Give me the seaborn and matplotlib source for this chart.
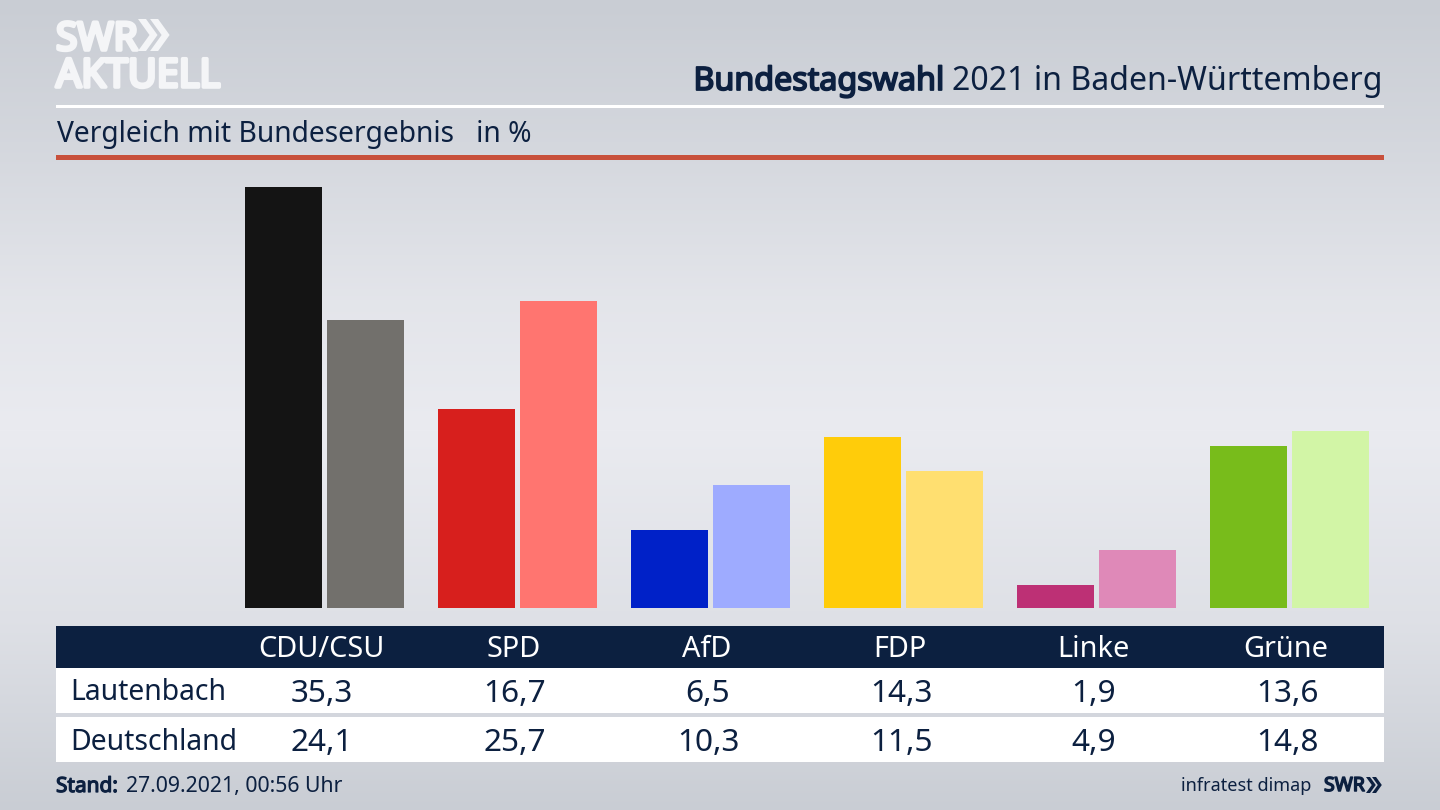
import numpy as np
import pandas as pd
import matplotlib.pyplot as plt
import matplotlib.patheffects as pe
import seaborn as sns
from matplotlib.patches import Rectangle

parteien = ["CDU/CSU", "SPD", "AfD", "FDP", "Linke", "Grüne"]
lautenbach = [35.3, 16.7, 6.5, 14.3, 1.9, 13.6]
deutschland = [24.1, 25.7, 10.3, 11.5, 4.9, 14.8]
farben_lautenbach = ["#141414", "#d71f1d", "#0021c8", "#ffcc0a", "#bd3075", "#78bc1b"]
farben_deutschland = ["#72706c", "#ff7570", "#9eabff", "#ffdf70", "#df89b8", "#d2f5a6"]

navy = "#0c2040"
logo_weiss = "#f4f5f7"
W, H = 1440, 810

sns.set_theme(style="white")
plt.rcParams["font.family"] = ["Noto Sans", "DejaVu Sans"]

df = pd.DataFrame({
    "partei": parteien * 2,
    "wert": lautenbach + deutschland,
    "gebiet": ["Lautenbach"] * 6 + ["Deutschland"] * 6,
})


def fett(farbe, staerke=1.0):
    # the installed Noto Sans has no bold cut, so thicken it with a stroke
    return [pe.withStroke(linewidth=staerke, foreground=farbe)]


def pfeile(ziel, x, y, hoehe, farbe):
    # the two SWR chevrons
    b = hoehe * 0.36
    s = hoehe * 0.25
    for dx in (0, b * 1.05):
        ziel.fill([x + dx, x + dx + s, x + dx + s + b, x + dx + s, x + dx, x + dx + b],
                  [y, y, y + hoehe / 2, y + hoehe, y + hoehe, y + hoehe / 2],
                  color=farbe, lw=0)


fig = plt.figure(figsize=(14.4, 8.1), dpi=100)

# background and overlay work in pixel coordinates
bg = fig.add_axes([0, 0, 1, 1], zorder=0)
verlauf = np.interp(np.arange(H), [0, 130, 300, 430, 620, 810], [0.0, 0.3, 0.8, 1.0, 0.65, 0.0])
oben, mitte = np.array([201, 205, 212]), np.array([234, 235, 240])
bild = oben + (mitte - oben) * verlauf[:, None]
bg.imshow(bild[:, None, :].astype(np.uint8), extent=[0, W, H, 0], aspect="auto")
bg.set_xlim(0, W)
bg.set_ylim(H, 0)
bg.axis("off")

# bars: baseline at y=608, 11.93 px per percent point
px_pro_punkt = 11.93
ax = fig.add_axes([228 / W, (H - 608) / H, 1158 / W, 438 / H], zorder=1)
ax.patch.set_alpha(0)
sns.barplot(data=df, x="partei", y="wert", hue="gebiet", hue_order=["Lautenbach", "Deutschland"],
            order=parteien, width=0.85, gap=0.061, legend=False, saturation=1, ax=ax)
for cont, farben in zip(ax.containers, [farben_lautenbach, farben_deutschland]):
    for bar, c in zip(cont, farben):
        bar.set_facecolor(c)
        bar.set_edgecolor("none")
ax.set_xlim(-0.5, 5.5)
ax.set_ylim(0, 438 / px_pro_punkt)
ax.axis("off")

# overlay for header and table
ov = fig.add_axes([0, 0, 1, 1], zorder=2)
ov.set_xlim(0, W)
ov.set_ylim(H, 0)
ov.axis("off")

ov.add_patch(Rectangle((56, 105), 1328, 2.5, color="white", lw=0))
ov.add_patch(Rectangle((56, 155), 1328, 5, color="#c8503c", lw=0))

ov.text(56, 50, "SWR", color=logo_weiss, fontsize=28, va="baseline", ha="left",
        path_effects=fett(logo_weiss, 2.6))
pfeile(ov, 138, 19, 32, logo_weiss)
ov.text(56, 87, "AKTUELL", color=logo_weiss, fontsize=28.5, va="baseline", ha="left",
        path_effects=fett(logo_weiss, 2.6))

titel = ov.text(1383, 90, "2021 in Baden-Württemberg", color=navy, fontsize=23.1, ha="right", va="baseline")
fig.canvas.draw()
links = ov.transData.inverted().transform(titel.get_window_extent().get_points())[0, 0]
ov.text(links - 8, 90, "Bundestagswahl", color=navy, fontsize=23.2, ha="right", va="baseline",
        path_effects=fett(navy, 1.3))

ov.text(57, 142, "Vergleich mit Bundesergebnis   in %", color=navy, fontsize=20.3, ha="left", va="baseline")

# table
ov.add_patch(Rectangle((56, 626), 1328, 42, color=navy, lw=0))
ov.add_patch(Rectangle((56, 668), 1328, 45, color="white", lw=0))
ov.add_patch(Rectangle((56, 717), 1328, 45, color="white", lw=0))

spalten = [321 + 193 * i for i in range(6)]
for x, p, a, b in zip(spalten, parteien, lautenbach, deutschland):
    ov.text(x, 657, p, color="white", fontsize=20.8, ha="center", va="baseline")
    ov.text(x + 1, 702, f"{a:.1f}".replace(".", ","), color=navy, fontsize=22.7, ha="center", va="baseline")
    ov.text(x + 1, 751, f"{b:.1f}".replace(".", ","), color=navy, fontsize=22.7, ha="center", va="baseline")
ov.text(70, 700, "Lautenbach", color=navy, fontsize=20.4, ha="left", va="baseline")
ov.text(70, 750, "Deutschland", color=navy, fontsize=20.4, ha="left", va="baseline")

# footer
ov.text(56, 792, "Stand:", color=navy, fontsize=15, ha="left", va="baseline", path_effects=fett(navy, 0.9))
ov.text(126, 792, "27.09.2021, 00:56 Uhr", color=navy, fontsize=15.3, ha="left", va="baseline")
ov.text(1311, 791, "infratest dimap", color=navy, fontsize=13, ha="right", va="baseline")
ov.text(1324, 791, "SWR", color=navy, fontsize=14, ha="left", va="baseline", path_effects=fett(navy, 1.1))
pfeile(ov, 1366, 777, 16, navy)

fig.savefig("out.png", dpi=100)
